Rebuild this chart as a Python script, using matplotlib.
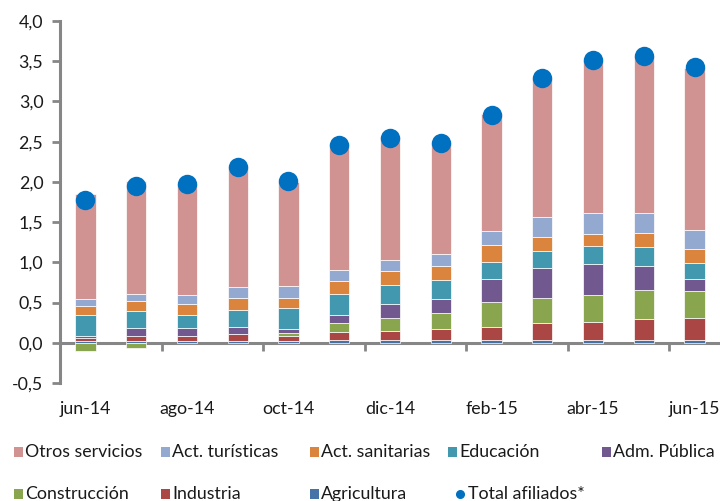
import numpy as np
import matplotlib
matplotlib.use("Agg")
import matplotlib.pyplot as plt
from matplotlib.patches import Rectangle
from matplotlib.lines import Line2D

plt.rcParams["font.family"] = ["Lato", "DejaVu Sans"]

months = ["jun-14", "jul-14", "ago-14", "sep-14", "oct-14", "nov-14", "dic-14",
          "ene-15", "feb-15", "mar-15", "abr-15", "may-15", "jun-15"]

# contributions (p.p.), bottom of the stack first
agricultura = [0.02, 0.02, 0.02, 0.02, 0.02, 0.03, 0.03, 0.03, 0.03, 0.03, 0.03, 0.03, 0.03]
industria = [0.04, 0.07, 0.07, 0.09, 0.06, 0.10, 0.12, 0.145, 0.17, 0.215, 0.23, 0.26, 0.28]
construccion = [-0.10, -0.06, 0.0, 0.0, 0.045, 0.11, 0.16, 0.20, 0.31, 0.31, 0.33, 0.37, 0.33]
adm_publica = [0.03, 0.09, 0.09, 0.08, 0.045, 0.11, 0.17, 0.17, 0.28, 0.37, 0.39, 0.29, 0.15]
educacion = [0.26, 0.22, 0.17, 0.22, 0.26, 0.26, 0.24, 0.24, 0.22, 0.22, 0.22, 0.24, 0.20]
sanitarias = [0.11, 0.12, 0.13, 0.15, 0.13, 0.16, 0.17, 0.17, 0.20, 0.17, 0.155, 0.18, 0.17]
turisticas = [0.09, 0.09, 0.11, 0.13, 0.15, 0.13, 0.14, 0.15, 0.18, 0.245, 0.26, 0.24, 0.245]
otros = [1.30, 1.40, 1.38, 1.50, 1.29, 1.57, 1.53, 1.375, 1.45, 1.73, 1.90, 1.95, 2.01]
total = [1.78, 1.95, 1.97, 2.18, 2.01, 2.46, 2.55, 2.48, 2.83, 3.29, 3.52, 3.56, 3.43]

series = [
    ("Agricultura", agricultura, "#4572A7"),
    ("Industria", industria, "#AA4643"),
    ("Construcción", construccion, "#89A54E"),
    ("Adm. Pública", adm_publica, "#71588F"),
    ("Educación", educacion, "#4198AF"),
    ("Act. sanitarias", sanitarias, "#DB843D"),
    ("Act. turísticas", turisticas, "#93A9CF"),
    ("Otros servicios", otros, "#D19392"),
]
dot_color = "#0070C0"
axis_gray = "#868686"
text_color = "#1a1a1a"

W, H = 720, 501
fig = plt.figure(figsize=(W / 100, H / 100), dpi=100)
ax = fig.add_axes([60 / W, 1 - 383 / H, 660 / W, 362 / H])

x = np.arange(len(months))
pos_bottom = np.zeros(len(months))
neg_bottom = np.zeros(len(months))
for name, vals, color in series:
    v = np.array(vals)
    bottom = np.where(v >= 0, pos_bottom, neg_bottom)
    ax.bar(x, v, 0.4, bottom=bottom, color=color, edgecolor="white",
           linewidth=0.5, zorder=2)
    pos_bottom += np.where(v >= 0, v, 0)
    neg_bottom += np.where(v < 0, v, 0)

ax.plot(x, total, "o", color=dot_color, markersize=14, zorder=4,
        markeredgewidth=0)

ymin, ymax = -0.5, 4.0
ax.set_ylim(ymin, ymax)
ax.set_xlim(-0.5, len(months) - 0.5)

yt = np.arange(-0.5, 4.01, 0.5)
ax.set_yticks(yt)
ax.set_yticklabels([f"{v:.1f}".replace(".", ",") for v in yt],
                   fontsize=12.8, color=text_color)
ax.tick_params(axis="y", direction="out", length=6, width=2,
               color=axis_gray, pad=6)

ax.set_xticks(x[::2])
ax.set_xticklabels(months[::2], fontsize=12.8, color=text_color)
ax.tick_params(axis="x", length=0, pad=13)

for s in ["top", "right", "bottom"]:
    ax.spines[s].set_visible(False)
ax.spines["left"].set_color(axis_gray)
ax.spines["left"].set_linewidth(2.2)

# zero line with tick marks between every second month
zero_ax = ax.secondary_xaxis((0 - ymin) / (ymax - ymin))
zero_ax.spines["bottom"].set_color(axis_gray)
zero_ax.spines["bottom"].set_linewidth(2.2)
zero_ax.set_xticks(x[1:-1:2] + 0.5)
zero_ax.tick_params(axis="x", direction="out", length=6, width=2,
                    color=axis_gray, labelbottom=False)
zero_ax.spines["bottom"].set_zorder(3)

# legend, laid out the way the original spreadsheet did it
legend_rows = [
    [("Otros servicios", 25), ("Act. turísticas", 172), ("Act. sanitarias", 321),
     ("Educación", 459), ("Adm. Pública", 613)],
    [("Construcción", 25), ("Industria", 172), ("Agricultura", 321),
     ("Total afiliados*", 468)],
]
colors = {name: c for name, _, c in series}
row_y = [452, 494]
for row, yc in zip(legend_rows, row_y):
    for label, tx in row:
        if label in colors:
            fig.add_artist(Rectangle(((tx - 11) / W, 1 - (yc + 5) / H), 9 / W, 10 / H,
                                     transform=fig.transFigure,
                                     facecolor=colors[label], edgecolor="none"))
        else:
            fig.add_artist(Line2D([(tx - 8) / W], [1 - yc / H], marker="o",
                                  markersize=5.5, color=dot_color, linestyle="none",
                                  transform=fig.transFigure))
        fig.text(tx / W, 1 - yc / H, label, fontsize=12.8, color=text_color,
                 va="center", ha="left")

fig.savefig("out.png", dpi=100)
